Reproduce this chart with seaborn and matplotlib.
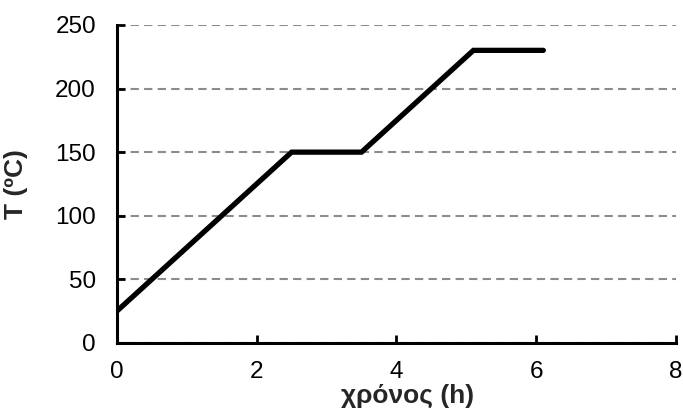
import pandas as pd
import matplotlib
matplotlib.use("Agg")
import matplotlib.pyplot as plt
import seaborn as sns

# dados
tempo = [0, 2.5, 3.5, 5.1, 6.1]
temperatura = [25, 150, 150, 230, 230]
xticks = [0, 2, 4, 6, 8]
yticks = [0, 50, 100, 150, 200, 250]

df = pd.DataFrame({"tempo": tempo, "temperatura": temperatura})

sns.set_style("white")
plt.rcParams["font.family"] = ["Liberation Sans", "DejaVu Sans"]

fig = plt.figure(figsize=(6.83, 4.15), dpi=100)
ax = fig.add_axes([0.171, 0.1735, 0.819, 0.7665])

sns.lineplot(data=df, x="tempo", y="temperatura", ax=ax, color="black",
             linewidth=3.8, solid_capstyle="round", solid_joinstyle="miter",
             zorder=3)

ax.set_xlim(0, 8)
ax.set_ylim(0, 250)
ax.set_xticks(xticks)
ax.set_yticks(yticks)
ax.yaxis.grid(True, color="#8c8c8c", linestyle=(0, (4, 2.5)), linewidth=1.5)
ax.xaxis.grid(False)

for s in ["top", "right"]:
    ax.spines[s].set_visible(False)
for s in ["left", "bottom"]:
    ax.spines[s].set_color("black")
    ax.spines[s].set_linewidth(2.2)

ax.tick_params(axis="both", direction="in", length=6, width=2,
               labelsize=17.5, colors="black")
ax.tick_params(axis="x", pad=13, bottom=True)
ax.tick_params(axis="y", pad=15, left=True)

ax.set_xlabel("χρόνος (h)", fontsize=19, fontweight="bold")
ax.set_ylabel("T (ºC)", fontsize=19, fontweight="bold")
ax.xaxis.set_label_coords(0.52, -0.13)
ax.yaxis.set_label_coords(-0.158, 0.5)

fig.savefig("out.png", dpi=100)
